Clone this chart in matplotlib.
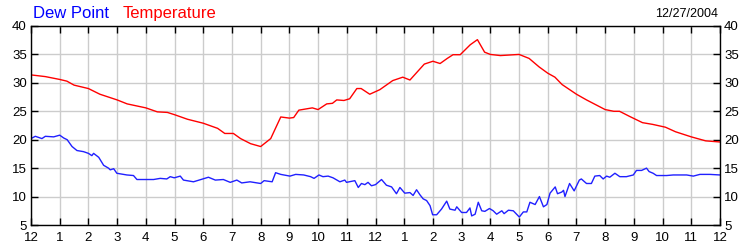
import matplotlib
matplotlib.use("Agg")
import matplotlib.pyplot as plt

plt.rcParams['font.family'] = ['Liberation Sans', 'DejaVu Sans']

# hour of day (0 = midnight) and readings, degrees
temp_hours = [0.0, 0.5, 1.0, 1.25, 1.5, 2.0, 2.4, 3.0, 3.35, 4.0, 4.4, 4.75, 5.0, 5.45,
              6.0, 6.5, 6.75, 7.05, 7.3, 7.65, 8.0, 8.35, 8.7, 9.0, 9.15, 9.33, 9.8,
              10.0, 10.3, 10.5, 10.65, 10.9, 11.1, 11.35, 11.5, 11.8, 12.15, 12.6,
              12.95, 13.2, 13.7, 14.0, 14.25, 14.5, 14.7, 14.95, 15.3, 15.55, 15.8,
              16.0, 16.35, 17.0, 17.35, 17.7, 18.0, 18.25, 18.5, 19.0, 19.35, 20.0,
              20.3, 20.5, 20.85, 21.3, 21.65, 22.1, 22.45, 23.0, 23.5, 24.0]
temp_vals = [31.4, 31.1, 30.6, 30.3, 29.6, 29.0, 28.0, 27.0, 26.3, 25.6, 24.9, 24.8, 24.4, 23.6,
             22.9, 22.0, 21.1, 21.1, 20.2, 19.3, 18.8, 20.2, 24.0, 23.8, 23.9, 25.2, 25.6,
             25.3, 26.3, 26.4, 27.0, 26.9, 27.2, 29.0, 29.0, 28.0, 28.8, 30.4,
             31.0, 30.5, 33.3, 33.8, 33.4, 34.3, 34.95, 34.95, 36.7, 37.6, 35.4,
             35.0, 34.8, 35.0, 34.3, 32.8, 31.7, 31.0, 29.7, 28.0, 27.0, 25.3,
             25.0, 25.0, 24.1, 23.0, 22.7, 22.2, 21.4, 20.5, 19.8, 19.6]

dew_hours = [0.0, 0.15, 0.38, 0.5, 0.79, 1.0, 1.14, 1.26, 1.43, 1.6, 1.83, 2.0, 2.12, 2.18,
             2.36, 2.53, 2.7, 2.76, 2.88, 2.99, 3.34, 3.57, 3.69, 4.27, 4.5, 4.73, 4.85,
             4.99, 5.2, 5.31, 5.66, 5.99, 6.18, 6.42, 6.7, 6.94, 7.17, 7.34, 7.63, 8.0,
             8.12, 8.4, 8.52, 8.7, 9.02, 9.22, 9.5, 9.74, 9.86, 10.03, 10.17, 10.35,
             10.52, 10.76, 10.93, 10.99, 11.28, 11.4, 11.51, 11.63, 11.74, 11.86, 12.0,
             12.21, 12.38, 12.56, 12.73, 12.85, 13.02, 13.2, 13.31, 13.43, 13.55, 13.66,
             13.78, 13.9, 13.99, 14.13, 14.3, 14.48, 14.59, 14.77, 14.83, 15.0, 15.17,
             15.29, 15.35, 15.47, 15.58, 15.7, 15.81, 15.97, 16.1, 16.22, 16.4, 16.48,
             16.63, 16.8, 17.01, 17.15, 17.27, 17.38, 17.56, 17.71, 17.85, 17.97, 18.08,
             18.26, 18.34, 18.49, 18.55, 18.6, 18.76, 18.92, 19.1, 19.17, 19.35, 19.52,
             19.64, 19.81, 19.93, 20.05, 20.16, 20.34, 20.51, 20.74, 20.98, 21.09, 21.27,
             21.44, 21.53, 21.67, 21.79, 22.14, 22.37, 22.6, 22.84, 23.07, 23.3, 23.65, 24.0]
dew_vals = [20.2, 20.6, 20.2, 20.6, 20.5, 20.8, 20.3, 20.0, 18.8, 18.1, 17.9, 17.6, 17.2, 17.6,
            16.9, 15.5, 15.0, 14.7, 14.9, 14.1, 13.8, 13.7, 13.0, 13.0, 13.2, 13.1, 13.5,
            13.3, 13.6, 12.9, 12.6, 13.1, 13.4, 12.9, 13.0, 12.5, 12.9, 12.4, 12.6, 12.3,
            12.8, 12.6, 14.2, 13.9, 13.6, 13.9, 13.8, 13.5, 13.2, 13.8, 13.5, 13.6,
            13.3, 12.6, 12.9, 12.5, 12.8, 11.6, 12.3, 12.1, 12.5, 11.9, 12.1,
            13.0, 12.0, 11.7, 10.5, 11.6, 10.6, 10.7, 10.2, 11.2, 10.3, 9.6,
            9.3, 8.4, 6.8, 6.8, 7.8, 9.2, 7.8, 7.6, 8.2, 7.2, 7.2,
            8.0, 6.6, 6.9, 9.0, 7.5, 7.4, 7.9, 7.5, 6.9, 7.5, 7.0,
            7.6, 7.5, 6.4, 7.3, 7.3, 9.0, 8.6, 10.0, 8.2, 8.6, 10.6,
            11.7, 10.5, 10.8, 11.1, 10.0, 12.3, 11.0, 12.9, 13.1, 12.3, 12.3,
            13.6, 13.7, 13.1, 13.6, 13.4, 14.1, 13.5, 13.5, 13.8, 14.6, 14.6,
            15.0, 14.4, 14.1, 13.7, 13.7, 13.8, 13.8, 13.8, 13.6, 13.9, 13.9, 13.8]

hour_labels = ['12', '1', '2', '3', '4', '5', '6', '7', '8', '9', '10', '11',
               '12', '1', '2', '3', '4', '5', '6', '7', '8', '9', '10', '11', '12']
date_label = '12/27/2004'

fig = plt.figure(figsize=(7.5, 2.5), dpi=100, facecolor='white')
ax = fig.add_axes([31/750, 25/250, 689/750, 199/250])

ax.plot(temp_hours, temp_vals, color='#ff0000', lw=1.0)
ax.plot(dew_hours, dew_vals, color='#2020ff', lw=1.0)

ax.set_xlim(0, 24)
ax.set_ylim(5, 40)
ax.set_xticks(range(25))
ax.set_xticklabels(hour_labels)
ax.set_yticks(range(5, 41, 5))
ax.grid(True, color='#cccccc', lw=1.0)
ax.set_axisbelow(True)
ax.tick_params(direction='in', length=5, width=1, top=True, right=True,
               labelright=True, labelsize=9.5, pad=3, colors='black')
ax.tick_params(axis='x', pad=5)
for s in ax.spines.values():
    s.set_linewidth(1.0)

fig.text(33/750, 1 - 18/250, 'Dew Point', color='#0000ff', fontsize=12, va='baseline')
fig.text(123/750, 1 - 18/250, 'Temperature', color='#ff0000', fontsize=12, va='baseline')
fig.text(718/750, 1 - 17/250, date_label, color='black', fontsize=9, ha='right', va='baseline')

fig.savefig('out.png', dpi=100, facecolor='white')
